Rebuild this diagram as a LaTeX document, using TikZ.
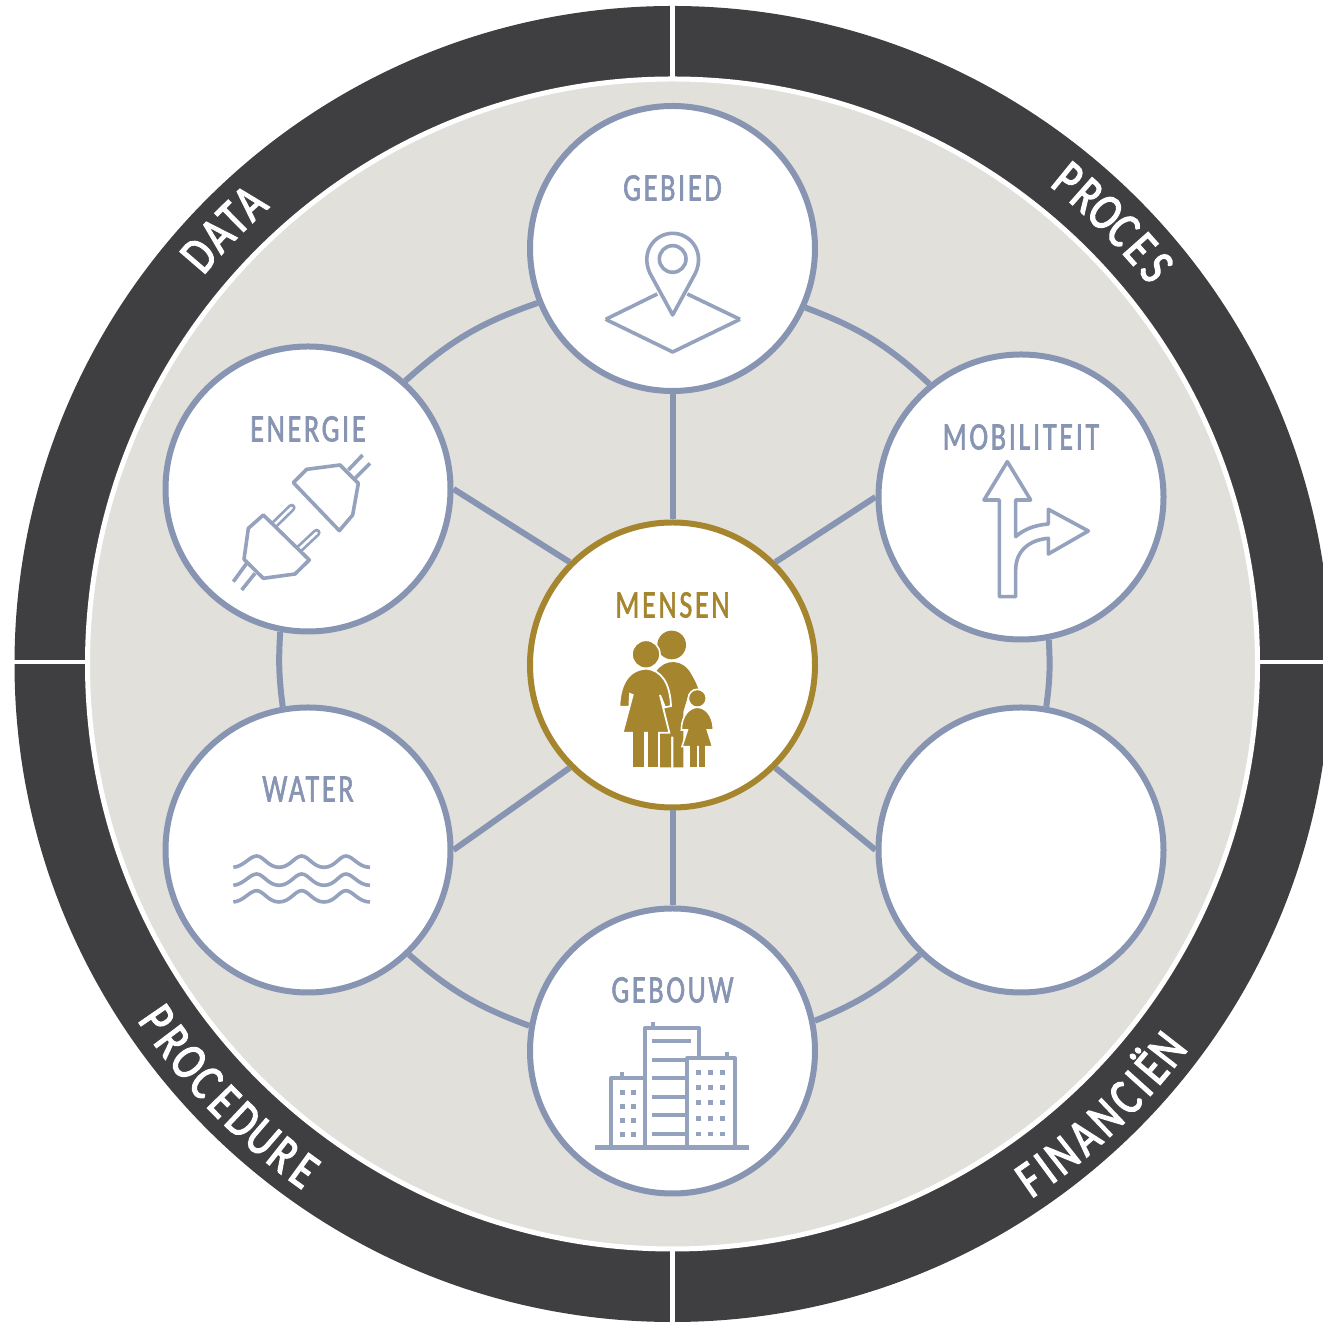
\documentclass[tikz,border=0pt]{standalone}
\usepackage{fontspec}
\setmainfont{Carlito}
\newfontfamily\lblfont[FakeStretch=0.72,LetterSpace=7,FakeBold=1.5]{Carlito}
\newfontfamily\ringfont[FakeStretch=0.78,FakeBold=2.5]{Carlito}
\definecolor{slate}{HTML}{8794B2}
\definecolor{slatei}{HTML}{95A2BE}
\definecolor{gold}{HTML}{A5852E}
\definecolor{disc}{HTML}{E1E0DB}
\definecolor{ringc}{HTML}{3F3F41}
\tikzset{
  unit/.style={circle,draw=slate,line width=6pt,fill=white,minimum size=285pt,inner sep=0pt},
  hub/.style={unit,draw=gold},
  link/.style={draw=slate,line width=6pt},
  lab/.style={font=\lblfont\fontsize{39pt}{39pt}\selectfont,text=slate,inner sep=0pt},
  zoomed/.style 2 args={x=0.33333pt,y=-0.33333pt,shift={(#1pt,1322pt-#2pt)}},
  ico/.style={draw=slatei,line width=3.6pt,line join=round},
  icob/.style={ico,line width=4pt},
  ringchar/.style={font=\ringfont\fontsize{52pt}{52pt}\selectfont,text=white,inner sep=0pt,anchor=base}
}
\begin{document}
\begin{tikzpicture}[x=1pt,y=1pt]
\useasboundingbox (0,0) rectangle (1323,1322);
\clip (0,0) rectangle (1323,1322);
\coordinate (c) at (672.5,658);
% outer ring and disc
\draw[ringc,line width=72pt] (c) circle[radius=622];
\fill[disc] (c) circle[radius=583];
\draw[white,line width=5pt] (c) circle[radius=585];
\coordinate (st) at (672.5,1322);
\coordinate (sb) at (672.5,0);
\coordinate (sl) at (0,660);
\coordinate (sr) at (1323,660);
\draw[white,line width=5pt] (st) -- ++(0,-78);
\draw[white,line width=5pt] (sb) -- ++(0,71);
\draw[white,line width=4pt] (sl) -- ++(88,0);
\draw[white,line width=4pt] (sr) -- ++(-66,0);
% ring labels, letter by letter
\foreach \ch/\ang [count=\i] in {P/50.8,R/48.5,O/46.2,C/43.9,E/41.6,S/39.3}
  \node[ringchar,rotate=\ang-90] (proces\i) at ([shift={(\ang:609)}]c) {\ch};
\foreach \ch/\ang [count=\i] in {D/139.2,A/136.7,T/134.6,A/132.5}
  \node[ringchar,rotate=\ang-90] (data\i) at ([shift={(\ang:609)}]c) {\ch};
\foreach \ch/\ang [count=\i] in {F/304.7,I/306.48,N/308.43,A/311.05,N/313.67,C/316.2,I/318.06,Ë/319.84,N/322.1}
  \node[ringchar,rotate=\ang+90] (fin\i) at ([shift={(\ang:644)}]c) {\ch};
\foreach \ch/\ang [count=\i] in {P/214.6,R/217.03,O/219.45,C/221.88,E/224.3,D/226.73,U/229.15,R/231.58,E/234}
  \node[ringchar,rotate=\ang+90] (proc\i) at ([shift={(\ang:643)}]c) {\ch};
% nodes
\node[hub] (mensen) at (672.5,657) {};
\node[unit] (gebied) at (672.5,1073.5) {};
\node[unit] (energie) at (308,833) {};
\node[unit] (mobiliteit) at (1021,825) {};
\node[unit] (water) at (308,472) {};
\node[unit] (leeg) at (1021,472) {};
\node[unit] (gebouw) at (672.5,271) {};
% connectors
\draw[link] (mensen.90) -- (gebied.270);
\draw[link] (mensen.270) -- (gebouw.90);
\draw[link] (mensen.135) -- (energie.0);
\draw[link] (mensen.45) -- (mobiliteit.180);
\draw[link] (mensen.225) -- (water.0);
\draw[link] (mensen.315) -- (leeg.180);
\draw[link] (gebied.202) to[bend right=11.5] (energie.48);
\draw[link] (gebied.336) to[bend left=11.2] (mobiliteit.129);
\draw[link] (energie.259) to[bend right=5.6] (water.100);
\draw[link] (mobiliteit.281) to[bend left=5.6] (leeg.80);
\draw[link] (water.314) to[bend right=10.5] (gebouw.170);
\draw[link] (gebouw.12) to[bend right=10] (leeg.226);
% labels
\node[lab] (tgebied) at (672.5,1134) {GEBIED};
\node[lab] (tenergie) at (308,893) {ENERGIE};
\node[lab] (tmob) at (1021,885) {MOBILITEIT};
\node[lab,text=gold] (tmensen) at (672.5,717) {MENSEN};
\node[lab] (twater) at (308,533) {WATER};
\node[lab] (tgebouw) at (672.5,332) {GEBOUW};
% pin icon
\begin{scope}[zoomed={540}{120}]
\draw[ico] (197,598) -- (352,522);
\draw[ico] (600,598) -- (442,522);
\draw[ico] (197,598) -- (398,696) -- (600,598);
\draw[ico] (398,585) -- (330,460) .. controls (300,395) and (345,340) .. (398,340) .. controls (451,340) and (496,395) .. (466,460) -- cycle;
\draw[ico] (398,417) circle[radius=40];
\end{scope}
% plug icon
\begin{scope}[zoomed={180}{400}]
\draw[ico] (505,210) -- (548,165);
\draw[ico] (525,235) -- (570,190);
\draw[ico] (340,248) -- (380,208) -- (480,195) -- (535,250) -- (518,345) -- (478,392) -- cycle;
\draw[slatei,line width=8pt,line cap=round] (285,372) -- (335,323);
\draw[white,line width=2.5pt,line cap=round] (285,372) -- (335,323);
\draw[slatei,line width=8pt,line cap=round] (360,445) -- (410,398);
\draw[white,line width=2.5pt,line cap=round] (360,445) -- (410,398);
\draw[ico,fill=white] (250,345) -- (205,385) -- (192,478) -- (250,535) -- (345,522) -- (388,480) -- cycle;
\draw[ico] (200,490) -- (160,545);
\draw[ico] (225,520) -- (185,570);
\end{scope}
% arrow icon
\begin{scope}[zoomed={900}{400}]
\draw[ico] (298,590) -- (298,300) -- (252,300) -- (322,185) -- (392,300) -- (347,300) -- (347,410)
  .. controls (375,385) and (410,375) .. (445,372) -- (445,328) -- (565,393) -- (445,462) -- (445,415)
  .. controls (385,420) and (347,455) .. (347,510) -- (347,590) -- cycle;
\end{scope}
% people icon
\begin{scope}[zoomed={570}{570}]
\fill[gold] (305,225) circle[radius=43];
\fill[gold] (258,305) .. controls (285,265) and (340,265) .. (365,315) .. controls (380,340) and (390,365) .. (385,375)
  -- (355,375) -- (340,425) -- (340,592) -- (310,592) -- (310,500) -- (303,500) -- (303,592) -- (270,592) -- (270,480) -- (240,400) -- cycle;
\filldraw[fill=gold,draw=white,line width=1.6pt] (228,253) circle[radius=42];
\filldraw[fill=gold,draw=white,line width=1.8pt] (228,296) .. controls (275,300) and (300,340) .. (303,408)
  -- (285,412) -- (270,375) -- (298,488) -- (158,488) -- (188,375) -- (180,372) -- (178,410) -- (148,410)
  .. controls (150,350) and (170,300) .. (228,296) -- cycle;
\fill[gold] (190,484) rectangle (222,592);
\fill[gold] (235,484) rectangle (265,592);
\filldraw[fill=gold,draw=white,line width=1.6pt] (382,385) circle[radius=27];
\filldraw[fill=gold,draw=white,line width=1.6pt] (382,412) .. controls (405,412) and (430,435) .. (430,480)
  -- (412,480) -- (428,530) -- (336,530) -- (352,480) -- (334,480) .. controls (334,435) and (360,412) .. (382,412) -- cycle;
\fill[gold] (360,526) rectangle (380,592);
\fill[gold] (388,526) rectangle (405,592);
\end{scope}
% building icon
\begin{scope}[zoomed={570}{960}]
\draw[slatei,line width=5pt] (75,562) -- (537,562);
\draw[icob] (225,562) -- (225,205) -- (388,205) -- (388,295);
\draw[icob] (352,562) -- (352,295) -- (495,295) -- (495,562);
\draw[icob] (122,562) -- (122,355) -- (222,355);
\draw[icob] (250,185) -- (250,205);
\draw[icob] (155,335) -- (155,355);
\draw[icob] (472,275) -- (472,295);
\draw[icob] (245,243) -- (362,243);
\foreach \yy in {300,355,410,465,522} \draw[icob] (245,\yy) -- (350,\yy);
\foreach \xx in {157,190} \foreach \yy in {398,440,482,524}
  \fill[slatei] (\xx-7,\yy-7) rectangle (\xx+7,\yy+7);
\foreach \xx in {385,422,458} \foreach \yy in {338,382,428,475,522}
  \fill[slatei] (\xx-7,\yy-7) rectangle (\xx+7,\yy+7);
\end{scope}
% water icon
\begin{scope}[zoomed={210}{760}]
\foreach \dy in {0,54,104}
  \draw[ico,shift={(0,\dy)}] (70,322) .. controls (100,320) and (120,288) .. (140,288)
    .. controls (160,288) and (175,322) .. (207,322) .. controls (240,322) and (255,288) .. (275,288)
    .. controls (295,288) and (310,322) .. (342,322) .. controls (375,322) and (388,288) .. (408,288)
    .. controls (428,288) and (445,322) .. (480,322);
\end{scope}
\end{tikzpicture}
\end{document}
